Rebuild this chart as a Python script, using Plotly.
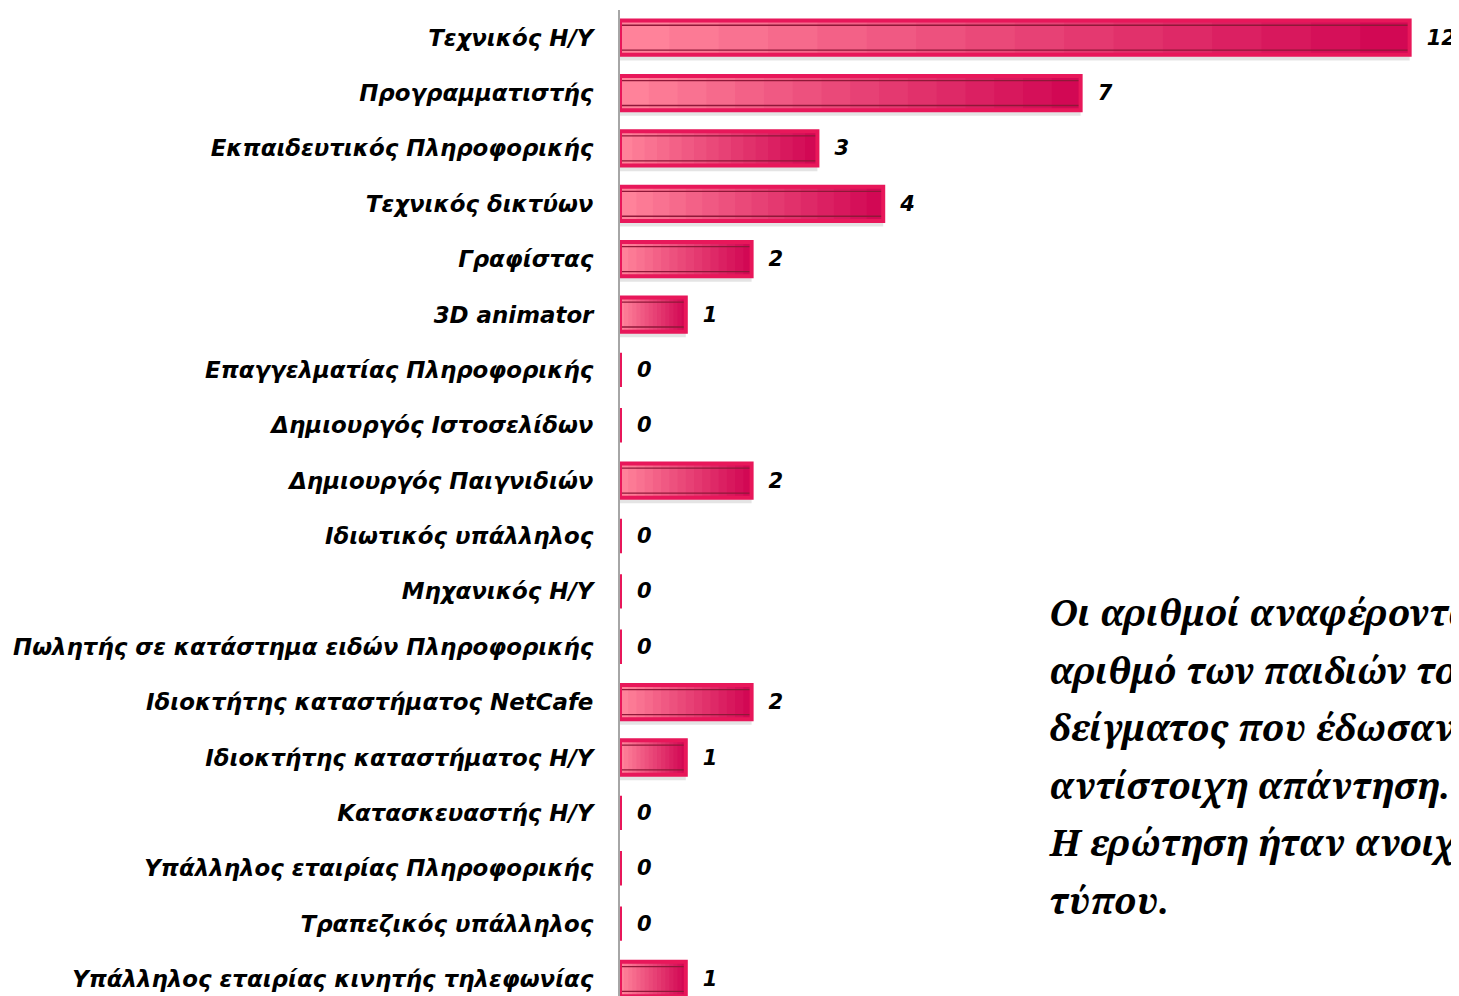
import plotly.graph_objects as go

categories = [
    "Τεχνικός Η/Υ",
    "Προγραμματιστής",
    "Εκπαιδευτικός Πληροφορικής",
    "Τεχνικός δικτύων",
    "Γραφίστας",
    "3D animator",
    "Επαγγελματίας Πληροφορικής",
    "Δημιουργός Ιστοσελίδων",
    "Δημιουργός Παιγνιδιών",
    "Ιδιωτικός υπάλληλος",
    "Μηχανικός Η/Υ",
    "Πωλητής σε κατάστημα ειδών Πληροφορικής",
    "Ιδιοκτήτης καταστήματος NetCafe",
    "Ιδιοκτήτης καταστήματος Η/Υ",
    "Κατασκευαστής Η/Υ",
    "Υπάλληλος εταιρίας Πληροφορικής",
    "Τραπεζικός υπάλληλος",
    "Υπάλληλος εταιρίας κινητής τηλεφωνίας",
]
values = [12, 7, 3, 4, 2, 1, 0, 0, 2, 0, 0, 0, 2, 1, 0, 0, 0, 1]

note_lines = [
    "Οι αριθμοί αναφέρονται στον",
    "αριθμό των παιδιών του",
    "δείγματος που έδωσαν την",
    "αντίστοιχη απάντηση.",
    "Η ερώτηση ήταν ανοιχτού",
    "τύπου.",
]

pos = list(range(len(categories)))
BW = 0.62

fig = go.Figure()

# soft shadow
fig.add_trace(go.Bar(
    y=pos, x=values, orientation="h", width=BW, offset=-BW / 2 + 0.1,
    marker=dict(color="rgba(90,90,90,0.16)", line=dict(width=0)),
    hoverinfo="skip", showlegend=False,
))

# gradient fill built from overlapping segments of each bar
N = 16
c0 = (255, 130, 154)
c1 = (210, 8, 84)
for k in range(N):
    t = k / (N - 1)
    col = "rgb(%d,%d,%d)" % tuple(round(a + (b - a) * t) for a, b in zip(c0, c1))
    fig.add_trace(go.Bar(
        y=pos, x=[v * (N - k) / N for v in values], base=[v * k / N for v in values],
        orientation="h", width=BW, offset=-BW / 2,
        marker=dict(color=col, line=dict(width=0)),
        hoverinfo="skip", showlegend=False,
    ))

# inner dark line
fig.add_trace(go.Bar(
    y=pos, x=values, orientation="h", width=BW - 0.17, offset=-(BW - 0.17) / 2,
    marker=dict(color="rgba(0,0,0,0)", line=dict(color="#8f1838", width=1.3)),
    hoverinfo="skip", showlegend=False,
))

# outer bright rim + value labels
fig.add_trace(go.Bar(
    y=pos, x=values, orientation="h", width=BW, offset=-BW / 2,
    marker=dict(color="rgba(0,0,0,0)", line=dict(color="#e8175a", width=4)),
    text=values, texttemplate="\u2002\u2006%{x}", textposition="outside",
    constraintext="none", cliponaxis=False,
    outsidetextfont=dict(family="DejaVu Sans", size=21, color="black", weight="bold", style="italic"),
    hoverinfo="skip", showlegend=False,
))

W, H = 1451, 988
ML, MT = 612, 2
PW, PH = W - ML, H - MT
line_y0 = 612 - 8
line_step = 57.6
for i, ln in enumerate(note_lines):
    fig.add_annotation(
        xref="paper", yref="paper",
        x=(1047 - 8 - ML) / PW, y=1 - (line_y0 + i * line_step - MT) / PH,
        text=ln, showarrow=False, xanchor="left", yanchor="middle",
        font=dict(family="Noto Serif", size=36.5, color="black", weight="bold", style="italic"),
    )

fig.update_layout(
    width=W, height=H,
    margin=dict(l=ML, r=0, t=MT, b=0),
    paper_bgcolor="white", plot_bgcolor="white",
    barmode="overlay",
    showlegend=False,
    xaxis=dict(range=[0, 12.75], visible=False, showgrid=False, zeroline=False),
    yaxis=dict(
        range=[17.307, -0.5],
        tickmode="array", tickvals=pos, ticktext=categories,
        showgrid=False, zeroline=False,
        showline=True, linecolor="#a6a6a6", linewidth=2,
        ticks="", ticklabelstandoff=20,
        tickfont=dict(family="DejaVu Sans", size=22.9, color="black", weight="bold", style="italic"),
    ),
)

fig.write_html("out.html")
